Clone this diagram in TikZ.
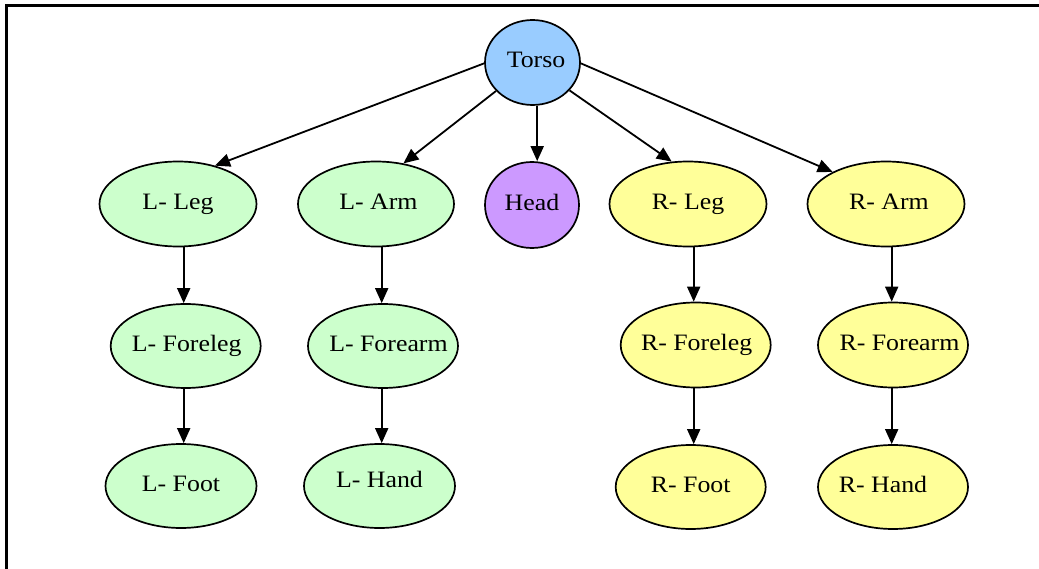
\documentclass[tikz,border=0pt]{standalone}
\usepackage{fontspec}
\setmainfont{Liberation Serif}[FakeStretch=1.1]
\usetikzlibrary{arrows.meta,shapes.geometric}
\definecolor{torsoblue}{HTML}{99CCFF}
\definecolor{headpurple}{HTML}{CC99FF}
\definecolor{limbgreen}{HTML}{CCFFCC}
\definecolor{limbyellow}{HTML}{FFFF99}
\newcommand\tshift[2]{\makebox[0pt]{\hspace*{#1}#2}}
\begin{document}
\begin{tikzpicture}[x=1pt,y=-1pt,
  part/.style={ellipse, draw=black, line width=1.7pt, inner sep=0pt,
    font=\fontsize{23.5}{28}\selectfont, text height=16pt, text depth=5pt},
  big/.style={minimum width=157pt, minimum height=85pt},
  mid/.style={minimum width=150pt, minimum height=84pt},
  green/.style={part, fill=limbgreen},
  yellow/.style={part, fill=limbyellow},
  arr/.style={line width=1.8pt, -{Triangle[length=15pt,width=13pt]}},
  frame/.style={line width=2.5pt}]
\useasboundingbox (0,0) rectangle (1039,569);
\draw[frame] (6.5,569) -- (6.5,5.3) -- (1039,5.3);

\node[part, fill=torsoblue, minimum width=95pt, minimum height=85pt] (torso) at (532.5,62.5) {\tshift{7pt}{Torso}};
\node[part, fill=headpurple, minimum width=94pt, minimum height=86pt] (head) at (532,205) {\tshift{0pt}{Head}};

\node[green, big] (lleg) at (178,204) {\tshift{0pt}{L- Leg}};
\node[green, big, minimum width=156pt] (larm) at (376,204) {\tshift{5pt}{L- Arm}};
\node[yellow, big] (rleg) at (688,204) {\tshift{0pt}{R- Leg}};
\node[yellow, big] (rarm) at (886,204) {\tshift{6pt}{R- Arm}};

\node[green, mid] (lfleg) at (185.7,346) {\tshift{2pt}{L- Foreleg}};
\node[green, mid] (lfarm) at (383,346) {\tshift{11pt}{L- Forearm}};
\node[yellow, mid, minimum height=85pt] (rfleg) at (695.7,345) {\tshift{2pt}{R- Foreleg}};
\node[yellow, mid, minimum height=85pt] (rfarm) at (893,345) {\tshift{13pt}{R- Forearm}};

\node[green, mid, minimum width=151pt] (lfoot) at (181,486) {\tshift{0pt}{L- Foot}};
\node[green, mid, minimum width=151pt] (lhand) at (379.5,486) {\tshift{0pt}{\raisebox{4pt}{L- Hand}}};
\node[yellow, mid] (rfoot) at (690.7,487) {\tshift{0pt}{R- Foot}};
\node[yellow, mid] (rhand) at (893,487) {\tshift{-20pt}{R- Hand}};

\coordinate (colA) at (183.7,0);
\coordinate (colB) at (381.7,0);
\coordinate (colC) at (693.7,0);
\coordinate (colD) at (891.7,0);
\coordinate (colH) at (537.2,0);

\draw[arr] (torso.181) -- (lleg.46.5);
\draw[arr] (torso.218.4) -- (larm.56.8);
\draw[arr] (torso.south -| colH) -- (head.north -| colH);
\draw[arr] (torso.-37.9) -- (rleg.111);
\draw[arr] (torso.-1) -- (rarm.149.7);

\draw[arr] (lleg.south -| colA) -- (lfleg.north -| colA);
\draw[arr] (lfleg.south -| colA) -- (lfoot.north -| colA);
\draw[arr] (larm.south -| colB) -- (lfarm.north -| colB);
\draw[arr] (lfarm.south -| colB) -- (lhand.north -| colB);
\draw[arr] (rleg.south -| colC) -- (rfleg.north -| colC);
\draw[arr] (rfleg.south -| colC) -- (rfoot.north -| colC);
\draw[arr] (rarm.south -| colD) -- (rfarm.north -| colD);
\draw[arr] (rfarm.south -| colD) -- (rhand.north -| colD);
\end{tikzpicture}
\end{document}
